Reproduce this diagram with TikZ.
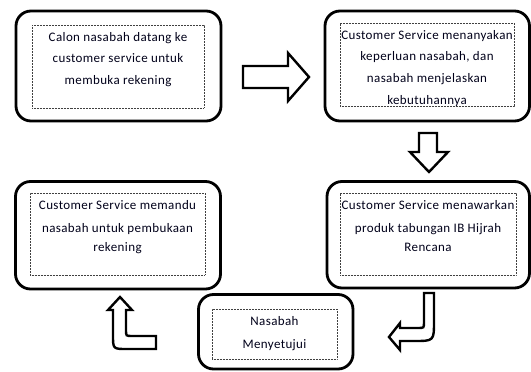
\documentclass[tikz,border=0pt]{standalone}
\usepackage{fontspec}
\setmainfont{Carlito}[LetterSpace=3]
\begin{document}
\begin{tikzpicture}[x=1pt,y=-1pt,
  outerbox/.style={draw=black, line width=2.8pt, rounded corners=15pt, inner sep=0pt},
  innerbox/.style={draw=black!75, line width=0.7pt, dash pattern=on 0.7pt off 0.8pt, inner sep=0pt},
  label/.style={inner sep=0pt, anchor=north, align=center, text=black!90!blue,
    font=\fontsize{13}{21.7}\selectfont},
  blockarrow/.style={draw=black, fill=white, line width=2.4pt, line join=miter}]
\useasboundingbox (0,0) rectangle (531,372);

% outer rounded frames
\node[outerbox, minimum width=205pt, minimum height=110pt] (b1) at (118.5,66) {};
\node[outerbox, minimum width=204.5pt, minimum height=110pt] (b2) at (427.25,66) {};
\node[outerbox, minimum width=202.5pt, minimum height=106.5pt] (b3) at (428.25,234.75) {};
\node[outerbox, minimum width=205pt, minimum height=107.5pt] (b4) at (118,235.25) {};
\node[outerbox, minimum width=154.5pt, minimum height=74.5pt] (b5) at (275.75,331.75) {};

% dotted text frames
\node[innerbox, minimum width=172pt, minimum height=83pt] (t1) at (118,66.5) {};
\node[innerbox, minimum width=174pt, minimum height=83pt] (t2) at (427,64.5) {};
\node[innerbox, minimum width=176pt, minimum height=82pt] (t3) at (428,234) {};
\node[innerbox, minimum width=175pt, minimum height=82pt] (t4) at (117.5,234) {};
\node[innerbox, minimum width=125pt, minimum height=50pt] (t5) at (274.5,334) {};

% texts
\node[label] (l1) at (118,32) {Calon nasabah datang ke\\customer service untuk\\membuka rekening};
\node[label] (l2) at (427,30) {Customer Service menanyakan\\keperluan nasabah, dan\\nasabah menjelaskan\\kebutuhannya};
\node[label] (l3) at (428,200) {Customer Service menawarkan\\[1.3pt]produk tabungan IB Hijrah\\[-2.7pt]Rencana};
\node[label] (l4) at (117.5,200) {Customer Service memandu\\[1.3pt]nasabah untuk pembukaan\\[-2.2pt]rekening};
\node[label, font=\fontsize{13}{23}\selectfont] (l5) at (274.5,316) {Nasabah\\Menyetujui};

% block arrows
\draw[blockarrow] (243,66) -- (288,66) -- (288,53) -- (309,77) -- (288,101)
  -- (288,88) -- (243,88) -- cycle;
\draw[blockarrow] (419,133) -- (437,133) -- (437,152) -- (448,152) -- (429,172)
  -- (410,152) -- (419,152) -- cycle;
\draw[blockarrow] (120,297) -- (132,310) -- (126,310) -- (126,330)
  .. controls (126,336) .. (132,336) -- (156,336) -- (156,349) -- (127,349)
  .. controls (113,349) .. (113,335) -- (113,310) -- (108,310) -- cycle;
\draw[blockarrow] (389,337) -- (400,323) -- (400,328) -- (418,328)
  .. controls (424,328) .. (424,322) -- (424,293) -- (434,293) -- (434,321)
  .. controls (434,341) .. (414,341) -- (400,341) -- (400,350) -- cycle;
\end{tikzpicture}
\end{document}
